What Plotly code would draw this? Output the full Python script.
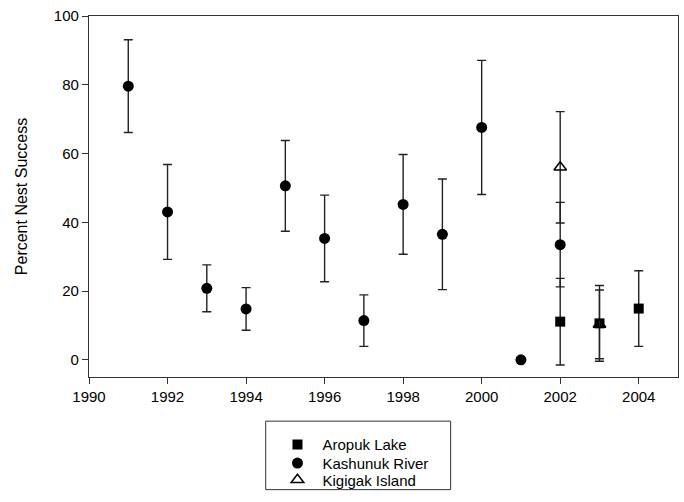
import plotly.graph_objects as go

# Data (percent nest success, symmetric error)
kash_years = [1991, 1992, 1993, 1994, 1995, 1996, 1997, 1998, 1999, 2000, 2001, 2002]
kash_vals = [79.6, 43.0, 20.8, 14.8, 50.6, 35.3, 11.4, 45.2, 36.5, 67.6, 0.0, 33.5]
kash_err = [13.5, 13.8, 6.8, 6.2, 13.2, 12.6, 7.5, 14.5, 16.1, 19.5, 0.0, 12.3]

arop_years = [2002, 2003, 2004]
arop_vals = [11.1, 10.6, 14.9]
arop_err = [12.6, 11.0, 11.0]

kig_years = [2002, 2003]
kig_vals = [56.0, 10.3]
kig_err = [16.2, 10.0]

x_ticks = [1990, 1992, 1994, 1996, 1998, 2000, 2002, 2004]
y_ticks = [0, 20, 40, 60, 80, 100]

FONT = "Arial, Liberation Sans, sans-serif"
ERR = dict(type="data", symmetric=True, color="#222222", thickness=1.4, width=4.5)

fig = go.Figure()
fig.add_trace(go.Scatter(
    x=arop_years, y=arop_vals, mode="markers", name="Aropuk Lake", legend="legend",
    marker=dict(symbol="square", size=10, color="black"),
    error_y=dict(array=arop_err, **ERR)))
fig.add_trace(go.Scatter(
    x=kash_years, y=kash_vals, mode="markers", name="Kashunuk River", legend="legend2",
    marker=dict(symbol="circle", size=11, color="black"),
    error_y=dict(array=kash_err, **ERR)))
fig.add_trace(go.Scatter(
    x=kig_years, y=kig_vals, mode="markers", name="Kigigak Island", legend="legend3",
    marker=dict(symbol="triangle-up-open", size=11, color="black", line=dict(width=1.5)),
    error_y=dict(array=kig_err, **ERR)))

axis_common = dict(showgrid=False, zeroline=False, showline=True, linecolor="#333333",
                   linewidth=1.2, mirror=True, ticks="outside", ticklen=6,
                   tickcolor="#333333", tickwidth=1.2, automargin=False,
                   ticklabeloverflow="allow",
                   tickfont=dict(family=FONT, size=15, color="black"))

fig.update_xaxes(range=[1990, 2005], tickvals=x_ticks, **axis_common)
fig.update_yaxes(range=[-5, 100], tickvals=y_ticks,
                 title=dict(text="Percent Nest Success", font=dict(family=FONT, size=16, color="black"),
                            standoff=22),
                 **axis_common)

fig.add_shape(type="rect", xref="paper", yref="paper",
              x0=0.300, x1=0.614, y0=-0.312, y1=-0.1223,
              line=dict(color="#333333", width=1), fillcolor="rgba(0,0,0,0)")

leg_common = dict(xanchor="left", yanchor="middle", bgcolor="rgba(0,0,0,0)", borderwidth=0,
                  font=dict(family=FONT, size=15, color="black"), itemwidth=40)
fig.update_layout(
    width=684, height=502,
    margin=dict(l=89, r=6, t=16, b=118),
    plot_bgcolor="white", paper_bgcolor="white",
    font=dict(family=FONT, size=15, color="black"),
    showlegend=True,
    legend=dict(x=0.3115, y=-0.1875, **leg_common),
    legend2=dict(x=0.3115, y=-0.2391, **leg_common),
    legend3=dict(x=0.3115, y=-0.2854, **leg_common),
)

fig.write_html("out.html", config={"displayModeBar": False},
               post_script="document.body.style.margin='0px';document.body.style.overflow='hidden';")
